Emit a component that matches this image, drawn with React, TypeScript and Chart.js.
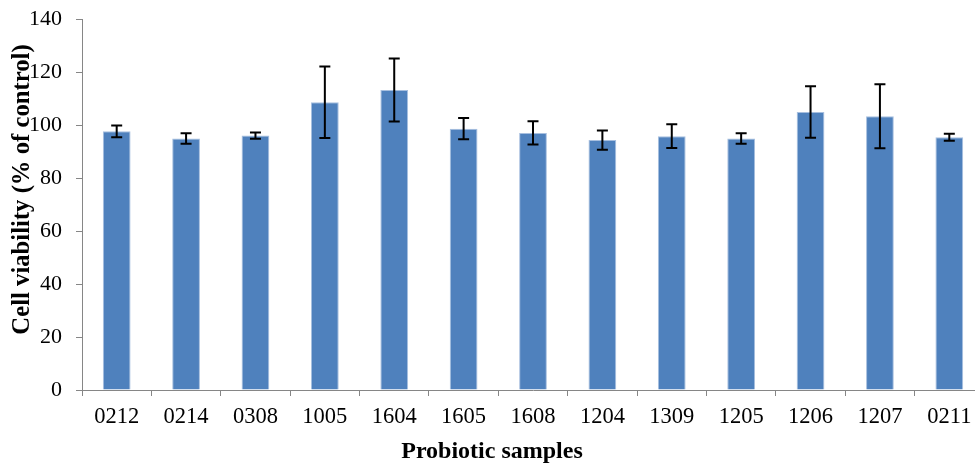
import React, { useEffect, useRef } from "react";
import { Chart, registerables } from "chart.js";

Chart.register(...registerables);

const categories = ["0212", "0214", "0308", "1005", "1604", "1605", "1608", "1204", "1309", "1205", "1206", "1207", "0211"];
const viability = [97.6, 94.9, 96.0, 108.6, 113.2, 98.6, 97.0, 94.3, 95.8, 94.9, 104.9, 103.3, 95.4];
const errors = [2.2, 2.0, 1.2, 13.5, 11.9, 4.0, 4.4, 3.6, 4.5, 2.0, 9.7, 12.1, 1.3];
const yTicks = [0, 20, 40, 60, 80, 100, 120, 140];

const FONT = "'Liberation Serif', 'Times New Roman', serif";
const AXIS = "#868686";

const errorBarPlugin = {
  id: "errorBars",
  afterDatasetsDraw(chart: any) {
    const meta = chart.getDatasetMeta(0);
    const y = chart.scales.y;
    const ctx = chart.ctx;
    ctx.save();
    ctx.strokeStyle = "#000000";
    ctx.lineWidth = 2;
    meta.data.forEach((bar: any, i: number) => {
      const x = bar.x;
      const top = y.getPixelForValue(viability[i] + errors[i]);
      const bot = y.getPixelForValue(viability[i] - errors[i]);
      const cap = 5.5;
      ctx.beginPath();
      ctx.moveTo(x, top);
      ctx.lineTo(x, bot);
      ctx.moveTo(x - cap, top);
      ctx.lineTo(x + cap, top);
      ctx.moveTo(x - cap, bot);
      ctx.lineTo(x + cap, bot);
      ctx.stroke();
    });
    ctx.restore();
  },
};

const titlesPlugin = {
  id: "axisTitles",
  afterDraw(chart: any) {
    const { ctx, chartArea } = chart;
    ctx.save();
    ctx.fillStyle = "#000000";
    ctx.textAlign = "center";
    ctx.textBaseline = "middle";
    ctx.font = `bold 24px ${FONT}`;
    ctx.fillText("Probiotic samples", 492, chartArea.bottom + 62);
    ctx.font = `bold 24.7px ${FONT}`;
    ctx.translate(chartArea.left - 59, (chartArea.top + chartArea.bottom) / 2 - 15);
    ctx.rotate(-Math.PI / 2);
    ctx.fillText("Cell viability (% of control)", 0, 0);
    ctx.restore();
  },
};

export default function App() {
  const ref = useRef<HTMLCanvasElement>(null);
  useEffect(() => {
    if (!ref.current) return;
    const chart = new Chart(ref.current, {
      type: "bar",
      data: {
        labels: categories,
        datasets: [
          {
            data: viability,
            backgroundColor: "#4F81BD",
            borderColor: "#A7BFDF",
            borderWidth: 1,
            barPercentage: 0.4,
            categoryPercentage: 1,
          },
        ],
      },
      options: {
        responsive: false,
        animation: false,
        devicePixelRatio: 1,
        layout: { padding: { left: 0, top: 19, right: 6, bottom: 0 } },
        plugins: { legend: { display: false }, tooltip: { enabled: false } },
        scales: {
          x: {
            afterFit: (s: any) => {
              s.height = 74;
              s.paddingLeft = 0;
              s.paddingRight = 0;
            },
            grid: { display: true, drawOnChartArea: false, tickLength: 6, color: AXIS, offset: true },
            border: { color: AXIS, width: 1 },
            ticks: { color: "#000000", font: { family: FONT, size: 22.5 }, padding: 8, maxRotation: 0, autoSkip: false },
          },
          y: {
            min: 0,
            max: 140,
            afterFit: (s: any) => {
              s.width = 82;
              s.paddingTop = 0;
              s.paddingBottom = 0;
            },
            afterBuildTicks: (s: any) => {
              s.ticks = yTicks.map((v) => ({ value: v }));
            },
            grid: { display: true, drawOnChartArea: false, tickLength: 6, color: AXIS },
            border: { color: AXIS, width: 1 },
            ticks: { color: "#000000", font: { family: FONT, size: 22 }, padding: 14 },
          },
        },
      },
      plugins: [errorBarPlugin, titlesPlugin],
    });
    return () => chart.destroy();
  }, []);
  return (
    <div style={{ position: "absolute", left: 0, top: 0, width: 975, height: 464, overflow: "hidden", background: "#ffffff" }}>
      <canvas ref={ref} width={990} height={464} style={{ width: 990, height: 464, display: "block" }} />
    </div>
  );
}
